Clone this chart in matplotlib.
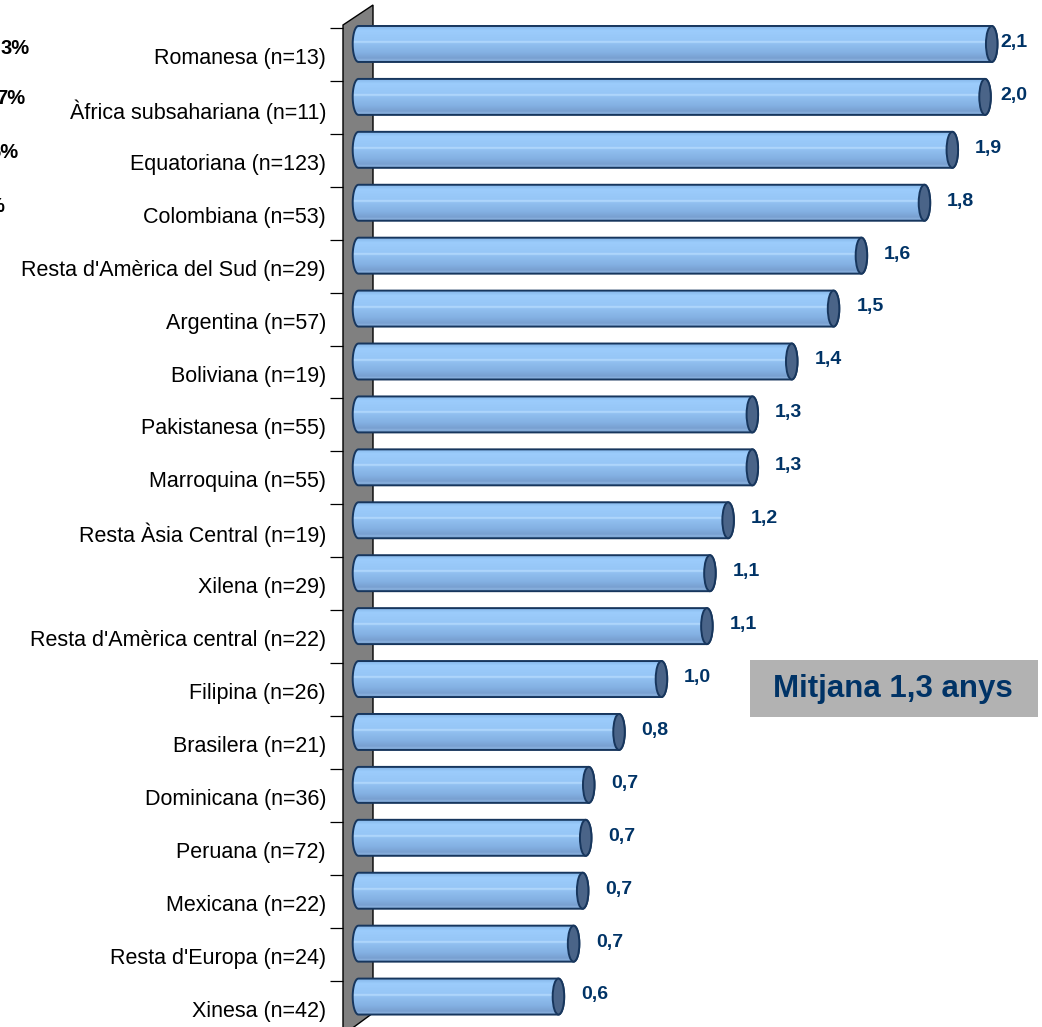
import numpy as np
import matplotlib
matplotlib.use("Agg")
import matplotlib.pyplot as plt
from matplotlib.patches import Polygon, Ellipse, PathPatch, Rectangle
from matplotlib.path import Path
from matplotlib.colors import LinearSegmentedColormap

plt.rcParams['font.family'] = ['Liberation Sans', 'DejaVu Sans']

# ---------------------------------------------------------------- data
categories = ["Romanesa (n=13)", "\u00c0frica subsahariana (n=11)", "Equatoriana (n=123)",
              "Colombiana (n=53)", "Resta d'Am\u00e8rica del Sud (n=29)", "Argentina (n=57)",
              "Boliviana (n=19)", "Pakistanesa (n=55)", "Marroquina (n=55)",
              "Resta \u00c0sia Central (n=19)", "Xilena (n=29)", "Resta d'Am\u00e8rica central (n=22)",
              "Filipina (n=26)", "Brasilera (n=21)", "Dominicana (n=36)", "Peruana (n=72)",
              "Mexicana (n=22)", "Resta d'Europa (n=24)", "Xinesa (n=42)"]
values = [2.07, 2.048, 1.94, 1.848, 1.64, 1.548, 1.41, 1.28, 1.28, 1.20,
          1.14, 1.13, 0.98, 0.84, 0.74, 0.73, 0.72, 0.69, 0.64]
side_notes = ["3%", "7%", "5%", "%"]     # remains of a neighbour chart, cut by the edge
mean_text = "Mitjana 1,3 anys"

W, H = 1042, 1027
navy = '#003366'
edge = '#17365D'

def px(x, y):      # pixel (from top-left) -> figure fraction
  return (x / W, 1 - y / H)

fig = plt.figure(figsize=(W / 100, H / 100), dpi=100)
ax = fig.add_axes([343 / W, 0, 1 - 343 / W, 1])
xlim = (-0.071, 2.236)
ylim = (18.575, -0.831)

# grey side wall of the 3d plot
wall = Polygon([px(343, 25), px(373, 5), px(373, 1013), px(343, 1035)], closed=True,
               transform=fig.transFigure, facecolor='#808080', edgecolor='black',
               linewidth=1, clip_on=False, zorder=-2)
ax.add_patch(wall)

# ---------------------------------------------------------------- cylinders
base = -0.02         # bars start inside the wall (3d depth)
h = 0.68
rx = 0.019
y = np.arange(len(categories))
bars = ax.barh(y, np.array(values) - base, left=base, height=h, color='none', edgecolor='none')

grad_cmap = LinearSegmentedColormap.from_list('cyl', [
  (0.0, '#86B8EA'), (0.12, '#9CCCFC'), (0.40, '#96C6F6'), (0.44, '#BADEFF'),
  (0.48, '#92C1F1'), (0.75, '#83B0E2'), (0.9, '#789FD0'), (0.95, '#8AB2DE'), (1.0, '#7199C9')])
grad = np.linspace(0, 1, 64).reshape(-1, 1)

for bar, v in zip(bars, values):
  x0 = bar.get_x()
  x1 = x0 + bar.get_width()
  yc = bar.get_y() + bar.get_height() / 2
  hh = bar.get_height() / 2
  t_left = np.linspace(np.pi / 2, 3 * np.pi / 2, 30)
  t_right = np.linspace(-np.pi / 2, np.pi / 2, 30)
  pts = np.vstack([
    np.column_stack([x0 + rx * np.cos(t_left), yc - hh * np.sin(t_left)]),
    np.column_stack([x1 + rx * np.cos(t_right), yc - hh * np.sin(t_right)]),
  ])
  shape = PathPatch(Path(np.vstack([pts, pts[:1]]), closed=True),
                    facecolor='none', edgecolor=edge, linewidth=1.4, zorder=3)
  ax.add_patch(shape)
  im = ax.imshow(grad, extent=[x0 - rx, x1 + rx, yc + hh, yc - hh], origin='upper',
                 aspect='auto', cmap=grad_cmap, zorder=2)
  im.set_clip_path(shape)
  ax.add_patch(Ellipse((x1, yc), 2 * rx, 2 * hh, facecolor='#4A6488',
                       edgecolor=edge, linewidth=1.4, zorder=4))
  lab = "{:.1f}".format(v).replace('.', ',')
  ax.text(min(x1 + rx + 0.056, 2.097), yc - 0.03, lab, ha='left', va='center',
          fontsize=14, fontweight='bold', color=navy)

ax.set_xlim(*xlim)
ax.set_ylim(*ylim)

# ---------------------------------------------------------------- axes
ax.set_yticks(y + 0.227, labels=categories)
ax.set_yticks(y - 0.302, minor=True)
ax.tick_params(axis='y', which='major', length=0, pad=12.2, labelsize=15.5)
ax.tick_params(axis='y', which='minor', length=9.4, width=0.9, color='black')
ax.set_xticks([])
for s in ax.spines.values():
  s.set_visible(False)
ax.patch.set_visible(False)

# ---------------------------------------------------------------- extras
for txt, (xr, yy) in zip(side_notes, [(30, 48), (25, 98), (19, 153), (4, 207)]):
  fig.text(*px(xr, yy), txt, ha='right', va='center', fontsize=14.5,
           fontweight='bold', color='black')

fig.add_artist(Rectangle(px(750, 717), 288 / W, 57 / H, transform=fig.transFigure,
                         facecolor='#B2B2B2', edgecolor='none'))
fig.text(*px(893, 689), mean_text, ha='center', va='center', fontsize=22.5,
         fontweight='bold', color=navy)

fig.savefig('out.png', dpi=100)
